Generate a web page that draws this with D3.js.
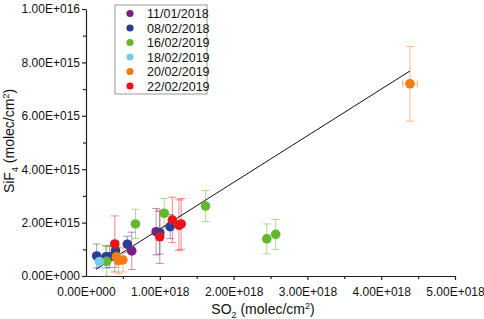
<!DOCTYPE html>
<html>
<head>
<meta charset="utf-8">
<script src="https://cdn.jsdelivr.net/npm/d3@7"></script>
<style>
  body { margin: 0; background: #fff; }
  svg text { font-family: "Liberation Sans", Arial, sans-serif; fill: #111; }
</style>
</head>
<body>
<div id="chart"></div>
<script>
// x values in units of 1e18 molec/cm2, y values in units of 1e15 molec/cm2
var seriesNames = ["11/01/2018", "08/02/2018", "16/02/2019", "18/02/2019", "20/02/2019", "22/02/2019"];
var seriesColors = ["#7a1f7d", "#2e3b96", "#64b82f", "#7ccbe5", "#f47c14", "#e8141b"];

var x11jan = [0.62, 0.95];
var y11jan = [0.94, 1.66];
var ey11jan = [0.70, 0.87];

var x08feb = [0.145, 0.27, 0.32, 0.40, 0.56, 1.00, 1.14];
var y08feb = [0.75, 0.72, 0.72, 0.95, 1.19, 1.62, 1.85];
var ey08feb = [0.45, 0.42, 0.40, 0.35, 0.30, 0.80, 0.45];

var x16feb = [0.28, 0.67, 1.06, 1.62, 2.45, 2.57];
var y16feb = [0.55, 1.95, 2.35, 2.62, 1.39, 1.56];
var ey16feb = [0.55, 0.55, 0.55, 0.58, 0.56, 0.56];

var x18feb = [0.18];
var y18feb = [0.54];
var ey18feb = [0.20];

var x20feb = [0.41, 0.44, 0.50, 4.39];
var y20feb = [0.72, 0.58, 0.60, 7.20];
var ey20feb = [0.40, 0.50, 0.45, 1.40];
var ex20feb = [0.03, 0.03, 0.03, 0.10];

var x22feb = [0.39, 1.00, 1.17, 1.26, 1.29];
var y22feb = [1.20, 1.47, 2.10, 1.90, 1.95];
var ey22feb = [1.05, 1.00, 0.85, 0.95, 0.95];

var xSeries = [x11jan, x08feb, x16feb, x18feb, x20feb, x22feb];
var ySeries = [y11jan, y08feb, y16feb, y18feb, y20feb, y22feb];
var eySeries = [ey11jan, ey08feb, ey16feb, ey18feb, ey20feb, ey22feb];

// linear fit
var fitX = [0.135, 4.39];
var fitSlope = 1.746;
var fitIntercept = 0.014;

var xTicks = [0, 1, 2, 3, 4, 5];
var yTicks = [0, 2, 4, 6, 8, 10];

var W = 484, H = 319;
var svg = d3.select("#chart").append("svg").attr("width", W).attr("height", H);

var x = d3.scaleLinear().domain([0, 5]).range([86, 455]);
var y = d3.scaleLinear().domain([0, 10]).range([276, 9]);

function sci(v, unitExp) {
  if (v === 0) return "0.00E+000";
  var val = v * Math.pow(10, unitExp);
  var e = Math.floor(Math.log10(val) + 1e-9);
  var m = val / Math.pow(10, e);
  return m.toFixed(2) + "E+" + String(e).padStart(3, "0");
}

// Axes
var xAxis = svg.append("g").attr("transform", "translate(0," + y(0) + ")")
  .call(d3.axisBottom(x).tickValues(xTicks).tickSize(4).tickSizeOuter(0)
    .tickFormat(function (d) { return sci(d, 18); }));
xAxis.selectAll(".tick").filter(function (d) { return d === 0; }).select("line").remove();
svg.append("g").attr("transform", "translate(0," + y(0) + ")")
  .call(d3.axisBottom(x).tickValues([0.5, 1.5, 2.5, 3.5, 4.5]).tickSize(3).tickFormat(""))
  .select(".domain").remove();

var yAxis = svg.append("g").attr("transform", "translate(" + x(0) + ",0)")
  .call(d3.axisLeft(y).tickValues(yTicks).tickSize(4).tickSizeOuter(0)
    .tickFormat(function (d) { return sci(d, 15); }));
svg.append("g").attr("transform", "translate(" + x(0) + ",0)")
  .call(d3.axisLeft(y).tickValues([1, 3, 5, 7, 9]).tickSize(3).tickFormat(""))
  .select(".domain").remove();

svg.selectAll(".domain").attr("stroke", "#222").attr("stroke-width", 1.2);
svg.selectAll(".tick line").attr("stroke", "#222").attr("stroke-width", 1.2);
xAxis.selectAll("text").attr("font-size", 12).attr("dy", "1.1em");
yAxis.selectAll("text").attr("font-size", 12).attr("x", -6);

// Axis titles
var xt = svg.append("text").attr("x", 263).attr("y", 314).attr("text-anchor", "middle").attr("font-size", 14);
xt.append("tspan").text("SO");
xt.append("tspan").attr("font-size", 9).attr("dy", 4).text("2");
xt.append("tspan").attr("dy", -4).text(" (molec/cm");
xt.append("tspan").attr("font-size", 9).attr("dy", -5).text("2");
xt.append("tspan").attr("dy", 5).text(")");

var yt = svg.append("text").attr("transform", "translate(14,141) rotate(-90)")
  .attr("text-anchor", "middle").attr("font-size", 14);
yt.append("tspan").text("SiF");
yt.append("tspan").attr("font-size", 9).attr("dy", 4).text("4");
yt.append("tspan").attr("dy", -4).text(" (molec/cm");
yt.append("tspan").attr("font-size", 9).attr("dy", -5).text("2");
yt.append("tspan").attr("dy", 5).text(")");

// Error bars
var cap = 4;
seriesNames.forEach(function (name, si) {
  var col = seriesColors[si];
  var g = svg.append("g").attr("stroke", col).attr("stroke-opacity", 0.5).attr("stroke-width", 1);
  xSeries[si].forEach(function (xv, i) {
    var yv = ySeries[si][i], ey = eySeries[si][i];
    var ex = si === 4 ? ex20feb[i] : 0.03;
    var px = x(xv), y1 = y(yv + ey), y0 = y(yv - ey);
    g.append("line").attr("x1", px).attr("x2", px).attr("y1", y1).attr("y2", y0);
    g.append("line").attr("x1", px - cap).attr("x2", px + cap).attr("y1", y1).attr("y2", y1);
    g.append("line").attr("x1", px - cap).attr("x2", px + cap).attr("y1", y0).attr("y2", y0);
    var xl = x(xv - ex), xr = x(xv + ex), py = y(yv);
    g.append("line").attr("x1", xl).attr("x2", xr).attr("y1", py).attr("y2", py);
    g.append("line").attr("x1", xl).attr("x2", xl).attr("y1", py - cap).attr("y2", py + cap);
    g.append("line").attr("x1", xr).attr("x2", xr).attr("y1", py - cap).attr("y2", py + cap);
  });
});

// Fit line
var fitLine = d3.line()
  .x(function (d) { return x(d); })
  .y(function (d) { return y(fitSlope * d + fitIntercept); });
svg.append("path").datum(fitX).attr("d", fitLine)
  .attr("fill", "none").attr("stroke", "#111").attr("stroke-width", 1);

// Points
seriesNames.forEach(function (name, si) {
  svg.append("g").selectAll("circle")
    .data(xSeries[si].map(function (xv, i) { return [xv, ySeries[si][i]]; }))
    .join("circle")
    .attr("cx", function (d) { return x(d[0]); })
    .attr("cy", function (d) { return y(d[1]); })
    .attr("r", 4.8)
    .attr("fill", seriesColors[si]);
});

// Legend
var lg = svg.append("g").attr("transform", "translate(115,5)");
lg.append("rect").attr("width", 92).attr("height", 89)
  .attr("fill", "#fff").attr("stroke", "#999").attr("stroke-width", 1);
seriesNames.forEach(function (name, i) {
  var row = lg.append("g").attr("transform", "translate(0," + (8.5 + i * 14.5) + ")");
  row.append("circle").attr("cx", 15).attr("cy", 0).attr("r", 3.6).attr("fill", seriesColors[i]);
  row.append("text").attr("x", 32).attr("y", 4.5).attr("font-size", 12.5).text(name);
});
</script>
</body>
</html>
